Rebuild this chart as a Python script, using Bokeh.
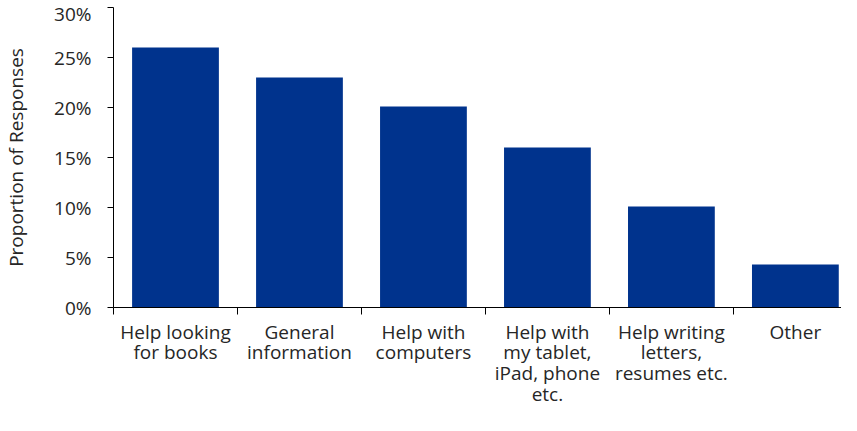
from bokeh.plotting import figure
from bokeh.models import Range1d, FixedTicker, ColumnDataSource
from bokeh.embed import file_html
from bokeh.resources import INLINE

categories = [
    "Help looking\nfor books",
    "General\ninformation",
    "Help with\ncomputers",
    "Help with\nmy tablet,\niPad, phone\netc.",
    "Help writing\nletters,\nresumes etc.",
    "Other",
]
values = [26.0, 23.0, 20.1, 16.0, 10.1, 4.3]
y_ticks = [0, 5, 10, 15, 20, 25, 30]
y_tick_labels = ["0%", "5%", "10%", "15%", "20%", "25%", "30%"]

FONT = "Open Sans"
TEXT = "#262626"
BLUE = "#00338D"

n = len(categories)
centers = [i + 0.5 for i in range(n)]
bars = ColumnDataSource(dict(x=centers, top=values))

p = figure(width=841, height=415,
           x_range=Range1d(0, 5.872), y_range=Range1d(0, 30),
           output_backend="svg", toolbar_location=None,
           min_border_left=107, min_border_top=7,
           min_border_right=0, min_border_bottom=108)
p.outline_line_color = None
p.grid.visible = False
p.background_fill_color = "white"
p.border_fill_color = "white"

p.vbar(x="x", top="top", width=0.7, bottom=0, source=bars,
       fill_color=BLUE, line_color=None)

xa = p.xaxis[0]
xa.ticker = FixedTicker(ticks=centers, minor_ticks=list(range(n + 1)))
xa.major_label_overrides = {c: lbl for c, lbl in zip(centers, categories)}
xa.major_label_text_font = FONT
xa.major_label_text_font_size = "19px"
xa.major_label_text_color = TEXT
xa.major_label_text_line_height = 0.8
xa.major_label_standoff = 4
xa.major_tick_out = 0
xa.major_tick_in = 0
xa.minor_tick_out = 7
xa.minor_tick_in = 0
xa.minor_tick_line_color = "black"
xa.axis_line_color = "black"

ya = p.yaxis[0]
ya.ticker = FixedTicker(ticks=y_ticks)
ya.major_label_overrides = {t: l for t, l in zip(y_ticks, y_tick_labels)}
ya.major_label_text_font = FONT
ya.major_label_text_font_size = "19px"
ya.major_label_text_color = TEXT
ya.major_label_standoff = 16
ya.major_tick_out = 6
ya.major_tick_in = 0
ya.minor_tick_out = 0
ya.minor_tick_in = 0
ya.major_tick_line_color = "black"
ya.axis_line_color = "black"
ya.axis_label = "Proportion of Responses"
ya.axis_label_text_font = FONT
ya.axis_label_text_font_size = "19px"
ya.axis_label_text_font_style = "normal"
ya.axis_label_text_color = TEXT
ya.axis_label_standoff = 22

open("out.html", "w").write(file_html(p, INLINE))
